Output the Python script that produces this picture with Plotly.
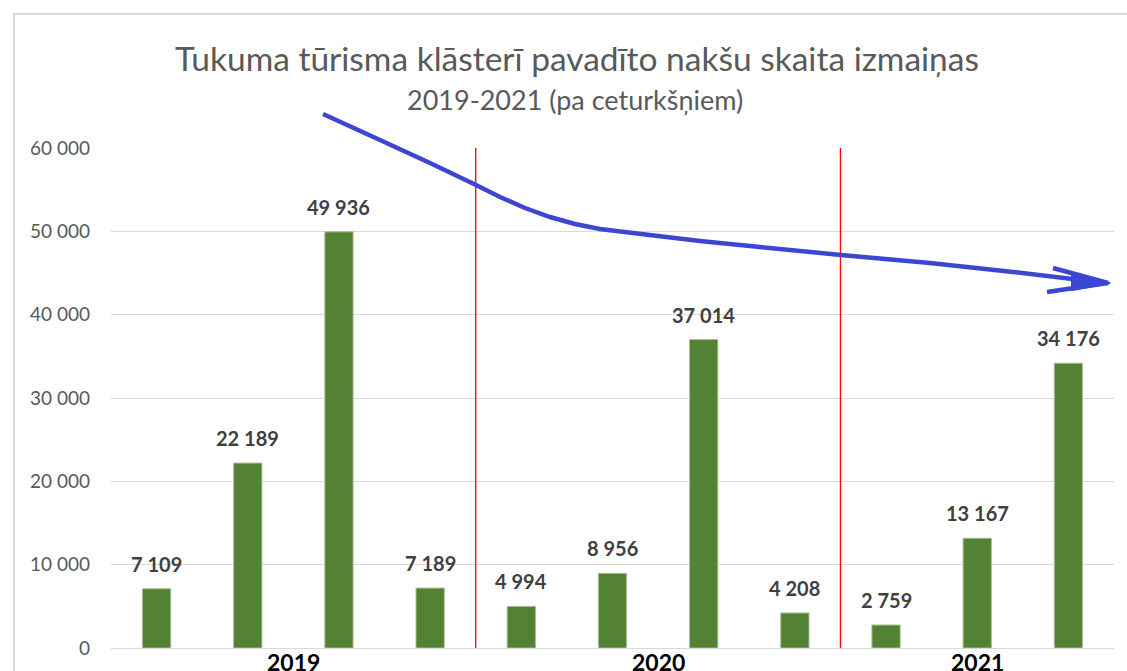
import plotly.graph_objects as go

# ---- data ----
categories = ["2019 Q1", "2019 Q2", "2019 Q3", "2019 Q4",
              "2020 Q1", "2020 Q2", "2020 Q3", "2020 Q4",
              "2021 Q1", "2021 Q2", "2021 Q3"]
values = [7109, 22189, 49936, 7189, 4994, 8956, 37014, 4208, 2759, 13167, 34176]
years = ["2019", "2020", "2021"]
year_members = [[0, 1, 2, 3], [4, 5, 6, 7], [8, 9, 10]]
y_ticks = [0, 10000, 20000, 30000, 40000, 50000, 60000]

title_text = "Tukuma tūrisma klāsterī pavadīto nakšu skaita izmaiņas"
subtitle_text = "2019-2021 (pa ceturkšņiem)"

# page geometry (body margin removed via post_script)
PAGE_W, PAGE_H = 1127, 671
PLOT_L, PLOT_R, PLOT_T, PLOT_B = 111, 1114, 148, 648   # page pixels
W, H = PAGE_W, PAGE_H
L, R, T, B = PLOT_L, W - PLOT_R, PLOT_T, H - PLOT_B
PW, PH = PLOT_R - PLOT_L, PLOT_B - PLOT_T

def px(x):
    return (x - PLOT_L) / PW

def py(y):
    return (PLOT_B - y) / PH

FONT = "Lato, 'Open Sans', sans-serif"

fig = go.Figure()
fig.add_trace(go.Bar(
    x=categories, y=values,
    marker=dict(color="#548235", line=dict(color="#a8bf94", width=1)),
    hoverinfo="x+y",
))

annotations = []
for c, v in zip(categories, values):
    annotations.append(dict(
        x=c, y=v, xref="x", yref="y", text=f"{v:,}".replace(",", " "),
        showarrow=False, yanchor="bottom", yshift=11,
        font=dict(family=FONT, size=20, color="#404040", weight="bold"),
    ))

for yr, members in zip(years, year_members):
    annotations.append(dict(
        x=sum(members) / len(members), y=0, xref="x", yref="paper",
        text=yr, showarrow=False, yanchor="top", yshift=2,
        font=dict(family=FONT, size=23, color="#000000", weight="bold"),
    ))

annotations.append(dict(
    x=px(577), y=py(58), xref="paper", yref="paper", text=title_text,
    showarrow=False, xanchor="center", yanchor="middle",
    font=dict(family=FONT, size=33.5, color="#595959"),
))
annotations.append(dict(
    x=px(575), y=py(100), xref="paper", yref="paper", text=subtitle_text,
    showarrow=False, xanchor="center", yanchor="middle",
    font=dict(family=FONT, size=27, color="#595959"),
))

shapes = []
# chart frame
shapes.append(dict(type="rect", xref="paper", yref="paper",
                   x0=px(14), x1=px(1160), y0=py(700), y1=py(14),
                   line=dict(color="#d9d9d9", width=2), layer="below"))
# year separators
for i in range(1, len(year_members)):
    xs = year_members[i][0] - 0.5
    shapes.append(dict(type="line", xref="x", yref="y", x0=xs, x1=xs,
                       y0=0, y1=y_ticks[-1],
                       line=dict(color="#ff0000", width=1.3)))

# hand-drawn blue trend arrow (decoration)
BLUE = "#3d45d3"
arrow_pts = [(323, 114), (380, 140), (430, 163), (474, 184), (500, 197),
             (525, 208), (550, 217), (575, 224), (600, 229), (633, 233),
             (700, 241), (760, 247), (841, 255), (930, 263), (1013, 272),
             (1106, 283)]
path = "M " + " L ".join(f"{px(a):.5f},{py(b):.5f}" for a, b in arrow_pts)
shapes.append(dict(type="path", xref="paper", yref="paper", path=path,
                   line=dict(color=BLUE, width=4.5)))
for bx, by in [(1053, 268), (1047, 292)]:
    shapes.append(dict(type="path", xref="paper", yref="paper",
                       path=f"M {px(bx):.5f},{py(by):.5f} L {px(1108):.5f},{py(283):.5f}",
                       line=dict(color=BLUE, width=4.5)))
shapes.append(dict(type="path", xref="paper", yref="paper",
                   path=(f"M {px(1072):.5f},{py(276):.5f} L {px(1110):.5f},{py(283):.5f} "
                         f"L {px(1072):.5f},{py(290):.5f} Z"),
                   fillcolor=BLUE, line=dict(color=BLUE, width=2)))

fig.update_layout(
    width=W, height=H,
    margin=dict(l=L, r=R, t=T, b=B),
    paper_bgcolor="white", plot_bgcolor="white",
    separators=". ",
    showlegend=False,
    bargap=0.69,
    annotations=annotations,
    shapes=shapes,
    font=dict(family=FONT),
)
fig.update_xaxes(showticklabels=False, showgrid=False, zeroline=False,
                 showline=False, ticks="")
fig.update_yaxes(range=[0, 60000], tickvals=y_ticks, tickformat=",d",
                 showgrid=True, gridcolor="#d9d9d9", gridwidth=1,
                 zeroline=True, zerolinecolor="#d9d9d9", zerolinewidth=1,
                 showline=False, ticks="", ticklabelstandoff=20,
                 tickfont=dict(family=FONT, size=19, color="#595959"))

fig.write_html(
    "out.html",
    config={"displayModeBar": False},
    post_script="document.body.style.margin='0';document.body.style.overflow='hidden';",
)
